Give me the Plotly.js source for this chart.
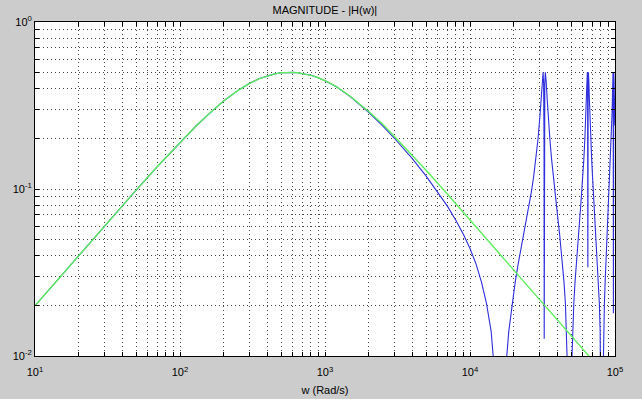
<!DOCTYPE html>
<html>
<head>
<meta charset="utf-8">
<script src="https://cdn.plot.ly/plotly-3.0.1.min.js"></script>
<style>html,body{margin:0;padding:0;background:#cccccc;}#chart{width:642px;height:399px;}</style>
</head>
<body>
<div id="chart"></div>
<script>
// Analog response (green)
var gW = [10,15,20,30,50,70,100,130,160,200,250,300,350,400,450,500,550,600,650,700,800,900,1000,1200,1500,2000,2500,3000,4000,5000,7000,10000,15000,20000,30000,50000,70000,100000];
var gH = [0.0200,0.0300,0.0399,0.0597,0.0988,0.1367,0.1907,0.2400,0.2838,0.3367,0.3882,0.4277,0.4571,0.4761,0.4892,0.4964,0.4995,0.4996,0.4971,0.4925,0.4795,0.4636,0.4454,0.4100,0.3583,0.2913,0.2440,0.2072,0.1590,0.1289,0.0930,0.0655,0.0438,0.0329,0.0219,0.0132,0.0094,0.0066];

// Digital response (blue)
var bW = [10,15,20,30,50,70,100,130,160,200,250,300,350,400,450,500,550,600,650,700,800,900,1000,1200,1500,2000,2500,3000,4000,5000,6000,7000,8000,9000,10000,11000,12000,13000,14000,15000,15500,16000,16250,
16500,17000,17500,18500,19500,20500,21500,22500,23500,24500,25500,26500,27500,28500,29500,30500,31000,31500,31700,31925,32200,32400,32494,32600,32800,33075,33300,33500,34000,34500,35500,36500,37500,38500,39500,40500,41500,42500,43500,44500,45500,46500,47500,48000,48500,48750,
49000,49500,50000,51000,52000,53000,54000,55000,56000,57000,58000,59000,60000,61000,62000,63000,63500,64000,64200,64425,64700,64983,65300,65575,65800,66000,66500,67000,68000,69000,70000,71000,72000,73000,74000,75000,76000,77000,78000,79000,80000,80500,81000,81250,
81500,82000,82500,83500,84500,85500,86500,87500,88500,89500,90500,91500,92500,93500,94500,95500,96000,96500,96700,96925,97200,97491,97800,98075,98300,98500,99000,99500,100000];
var bH = [0.0200,0.0300,0.0399,0.0597,0.0988,0.1367,0.1907,0.2400,0.2838,0.3367,0.3882,0.4277,0.4571,0.4761,0.4892,0.4964,0.4995,0.4996,0.4971,0.4925,0.4795,0.4636,0.4454,0.4095,0.3565,0.288,0.239,0.202,0.152,0.119,0.096,0.0787,0.0647,0.0535,0.0440,0.0356,0.0277,0.0206,0.0140,0.0077,0.0047,0.0015,0.0003,
0.0015,0.0047,0.0077,0.0140,0.0206,0.0277,0.0356,0.0440,0.0535,0.0647,0.0787,0.096,0.119,0.152,0.202,0.288,0.356,0.445,0.480,0.500,0.428,0.191,0.0127,0.191,0.428,0.500,0.480,0.445,0.356,0.288,0.202,0.152,0.119,0.096,0.0787,0.0647,0.0535,0.0440,0.0356,0.0277,0.0206,0.0140,0.0077,0.0047,0.0015,0.0003,
0.0015,0.0047,0.0077,0.0140,0.0206,0.0277,0.0356,0.0440,0.0535,0.0647,0.0787,0.096,0.119,0.152,0.202,0.288,0.356,0.445,0.480,0.500,0.428,0.034,0.428,0.500,0.480,0.445,0.356,0.288,0.202,0.152,0.119,0.096,0.0787,0.0647,0.0535,0.0440,0.0356,0.0277,0.0206,0.0140,0.0077,0.0047,0.0015,0.0003,
0.0015,0.0047,0.0077,0.0140,0.0206,0.0277,0.0356,0.0440,0.0535,0.0647,0.0787,0.096,0.119,0.152,0.202,0.288,0.356,0.445,0.480,0.500,0.428,0.018,0.428,0.500,0.480,0.445,0.356,0.288,0.240];

// Ticks
var xTickVals = [10,20,30,40,50,60,70,80,90,100,200,300,400,500,600,700,800,900,1000,2000,3000,4000,5000,6000,7000,8000,9000,10000,20000,30000,40000,50000,60000,70000,80000,90000,100000];
var xTickText = ['10<sup>1</sup>','','','','','','','','','10<sup>2</sup>','','','','','','','','','10<sup>3</sup>','','','','','','','','','10<sup>4</sup>','','','','','','','','','10<sup>5</sup>'];
var yTickVals = [0.01,0.02,0.03,0.04,0.05,0.06,0.07,0.08,0.09,0.1,0.2,0.3,0.4,0.5,0.6,0.7,0.8,0.9,1];
var yTickText = ['10<sup>-2</sup>','','','','','','','','','10<sup>-1</sup>','','','','','','','','','10<sup>0</sup>'];

var traces = [
  {x: bW, y: bH, type: 'scatter', mode: 'lines', line: {color: '#2f2fdc', width: 1.1}, hoverinfo: 'skip'},
  {x: gW, y: gH, type: 'scatter', mode: 'lines', line: {color: '#5cee5c', width: 1.4}, hoverinfo: 'skip'}
];

var fontBase = {family: 'Liberation Sans, Arial, sans-serif', size: 11, color: '#000'};

var axisCommon = {
  type: 'log', showline: true, linecolor: '#000', linewidth: 1, mirror: 'allticks',
  ticks: 'inside', ticklen: 4, tickcolor: '#000', tickwidth: 1,
  showgrid: true, gridcolor: '#444', gridwidth: 1, griddash: '1px,3px',
  zeroline: false, tickfont: fontBase
};

var layout = {
  width: 642, height: 399,
  paper_bgcolor: '#cccccc', plot_bgcolor: '#ffffff',
  margin: {l: 35, r: 27, t: 22, b: 43},
  showlegend: false,
  title: {text: 'MAGNITUDE - |H(w)|', x: 0.506, xanchor: 'center', y: 0.985, yanchor: 'top', font: fontBase},
  xaxis: Object.assign({}, axisCommon, {range: [1, 5], tickmode: 'array', tickvals: xTickVals, ticktext: xTickText,
          ticklabelstandoff: 6,
          title: {text: 'w (Rad/s)', standoff: 9, font: fontBase}}),
  yaxis: Object.assign({}, axisCommon, {range: [-2, 0], tickmode: 'array', tickvals: yTickVals, ticktext: yTickText})
};

Plotly.newPlot('chart', traces, layout, {staticPlot: true, displayModeBar: false});
</script>
</body>
</html>
